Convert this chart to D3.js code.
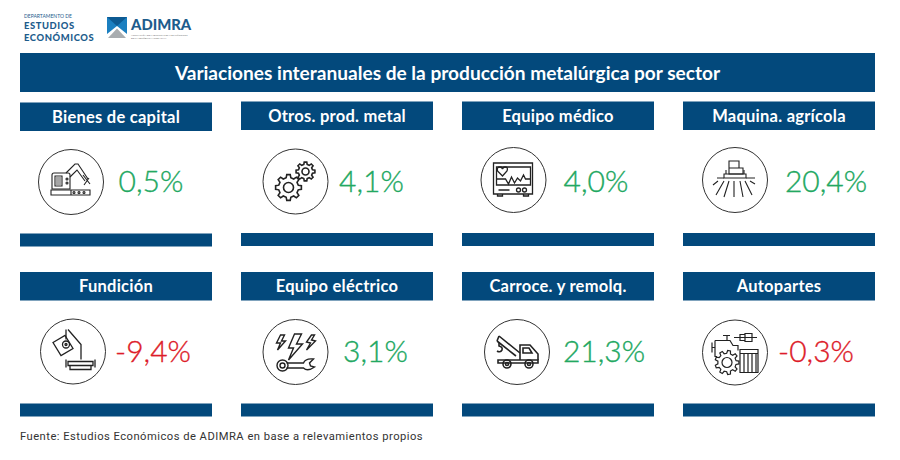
<!DOCTYPE html>
<html>
<head>
<meta charset="utf-8">
<script src="https://cdn.jsdelivr.net/npm/d3@7"></script>
<style>
  html, body { margin: 0; padding: 0; background: #fff; }
  svg { display: block; }
</style>
</head>
<body>
<div id="chart"></div>
<script>
// Chart content
var titleText = "Variaciones interanuales de la producción metalúrgica por sector";
var sectors = ["Bienes de capital", "Otros. prod. metal", "Equipo médico", "Maquina. agrícola",
               "Fundición", "Equipo eléctrico", "Carroce. y remolq.", "Autopartes"];
var variations = [0.5, 4.1, 4.0, 20.4, -9.4, 3.1, 21.3, -0.3];
var icons = ["robot", "gears", "monitor", "tractor", "foundry", "electric", "truck", "parts"];
var sourceText = "Fuente: Estudios Económicos de ADIMRA en base a relevamientos propios";

var width = 900, height = 460;
var blue = "#03497c", green = "#22a862", red = "#dd1c2a", ink = "#222";

var svg = d3.select("#chart").append("svg")
  .attr("width", width)
  .attr("height", height);

var fmt = d3.formatLocale({ decimal: ",", thousands: ".", grouping: [3], currency: ["", ""], minus: "-" }).format(".1f");

// Cards sit on a 4 x 2 grid
var colX = d3.scaleLinear().domain([0, 3]).range([20, 683]);
var rowY = d3.scalePoint().domain([0, 1]).range([101.5, 272]);
var cardW = 192;

// Small per card nudges so it lines up with the picture
var circleDx = [51, 54.5, 51.5, 52, 53, 54.5, 55, 52];
var circleDy = [1, 0.5, -1, -1, 0, 0.5, 0.5, 1];
var valueDx = [131, 130.5, 134, 143, 133, 134.5, 142, 133];

// Header
svg.append("rect").attr("x", 20).attr("y", 53).attr("width", 855).attr("height", 39).attr("fill", blue);
svg.append("text")
  .attr("x", 447.5).attr("y", 79.5)
  .attr("text-anchor", "middle")
  .attr("font-family", "Lato")
  .attr("font-weight", 700)
  .attr("font-size", 19.1)
  .attr("fill", "#fff")
  .text(titleText);

// Departamento logo
var logo = svg.append("g").attr("fill", "#1d5c8c").attr("font-family", "Lato");
logo.append("text").attr("x", 24).attr("y", 18).attr("font-size", 5).text("DEPARTAMENTO DE");
logo.append("text").attr("x", 24).attr("y", 29).attr("font-size", 9.4).attr("letter-spacing", 0.6).attr("font-weight", 900).text("ESTUDIOS");
logo.append("text").attr("x", 24).attr("y", 40.5).attr("font-size", 9.4).attr("letter-spacing", 0.6).attr("font-weight", 900).text("ECONÓMICOS");

// ADIMRA logo
var mark = svg.append("g").attr("transform", "translate(107,17)");
mark.append("path").attr("d", "M0,0H20V17L10,9L0,17Z").attr("fill", "#1b7fc0");
mark.append("path").attr("d", "M0,0L10,9L20,0Z").attr("fill", "#0d5a92");
mark.append("path").attr("d", "M1,21L10,11.5L19,21Z").attr("fill", "#a9adb0");
logo.append("text").attr("x", 131).attr("y", 29.5).attr("font-size", 14.8).attr("font-weight", 900).text("ADIMRA");
logo.append("text").attr("x", 131).attr("y", 35.5).attr("font-size", 2.5).attr("fill", "#777").text("ASOCIACIÓN DE INDUSTRIALES METALÚRGICOS");
logo.append("text").attr("x", 131).attr("y", 38.6).attr("font-size", 2.5).attr("fill", "#777").text("DE LA REPÚBLICA ARGENTINA");

// gear outline around the origin
function gearPath(cx, cy, rOut, rIn, teeth) {
  var pts = [];
  var step = 2 * Math.PI / teeth;
  d3.range(teeth).forEach(function (i) {
    var a = i * step;
    [[-0.3, rIn], [-0.17, rOut], [0.17, rOut], [0.3, rIn]].forEach(function (p) {
      var t = a + p[0] * step;
      pts.push([cx + p[1] * Math.cos(t), cy + p[1] * Math.sin(t)]);
    });
  });
  return d3.line().curve(d3.curveLinearClosed)(pts);
}

function ring(g, cx, cy, r) {
  g.append("circle").attr("cx", cx).attr("cy", cy).attr("r", r);
}
function paths(g, list) {
  list.forEach(function (d) { g.append("path").attr("d", d); });
}

var iconDraw = {
  robot: function (g) {
    paths(g, [
      "M-20,8H19V13H-20Z M0,8V13",
      "M-19,7V-7Q-19,-9 -17,-9H-3Q-1,-9 -1,-7V7Z",
      "M-16,-6H-9V4H-16Z",
      "M-5,-9L4,-18L7,-18L17,-3 M-1,-5L6,-12L14,-1",
      "M12,-7L19,2 M18,-4L13,3"
    ]);
    ring(g, -4, -3, 1); ring(g, -4, 1, 1); ring(g, 3, 10.5, 1); ring(g, 8, 10.5, 1); ring(g, 13, 10.5, 1);
    g.append("path").attr("d", "M-15,-4H-10 M-15,-2H-10 M-15,0H-10 M-15,2H-10").attr("stroke-width", 0.8);
  },
  gears: function (g) {
    g.attr("stroke-width", 1.6);
    g.append("path").attr("d", gearPath(-7, 6, 13, 10, 8));
    ring(g, -7, 6, 5);
    g.append("path").attr("d", gearPath(10, -10, 9.5, 7.2, 8));
    ring(g, 10, -10, 3.5);
  },
  monitor: function (g) {
    g.attr("stroke-width", 1.3);
    paths(g, [
      "M-20,-17H19V14H-20Z",
      "M-17,-13H17V5H-17Z",
      "M-17,-1H-8L-5,4L-2,-3L1,3L4,-2L7,1L10,-5L12,-1H17",
      "M-11,-4L-16,-9Q-17,-13 -13.5,-13Q-11.5,-13 -11,-11Q-10.5,-13 -8.5,-13Q-5,-13 -6.5,-9Z",
      "M-15,10H-4 M-16,14V16H-11V14 M10,14V16H15V14"
    ]);
    ring(g, 5, 10, 2); ring(g, 11, 10, 2);
  },
  tractor: function (g) {
    paths(g, [
      "M-6,-19H4V-12H8V-6H-6Z M-6,-12H4",
      "M-11,-6H11V-2H-11Z M-9,-10V-6 M9,-10V-6",
      "M-18,-2H-11 M11,-2H20",
      "M-11,1L-19,15 M-6,1L-11,17 M-1,1V17 M5,1L8,17 M10,1L17,15",
      "M-17,1L-22,5 M15,1L20,4"
    ]);
  },
  foundry: function (g) {
    g.attr("stroke-width", 1.3);
    paths(g, [
      "M-20,-9L-8,-16L0,-3L-12,4Z",
      "M-7,-22V-12 M-5,-22L8,-7V8",
      "M-5,10H20V14H-5Z M-3,14V18H18V14 M-7,8V16 M22,8V16"
    ]);
    ring(g, -7, -7, 3.5); ring(g, -7, -7, 1);
  },
  electric: function (g) {
    g.attr("stroke-width", 1.4);
    paths(g, [
      "M-15,-17L-19,-9L-15,-9L-18,-2L-10,-11L-14,-11L-11,-17Z",
      "M16,-17L11,-10L15,-9L11,-2L20,-11L16,-12L19,-17Z",
      "M-1,-18L-7,-4L-2,-4L-7,8L7,-8L1,-8L6,-18Z",
      "M-9,11H8Q10,6 18,7L14,11L15,14L19,15Q12,20 8,16H-9"
    ]);
    ring(g, -13, 13.5, 5.5); ring(g, -13, 13.5, 2.5);
  },
  truck: function (g) {
    g.attr("stroke-width", 1.6);
    paths(g, [
      "M-19,8H21V11H-19Z",
      "M3,8V-7H13L21,2V8 M6,-4H12L15,1H6Z",
      "M-18,-16L3,1 M-20,-11L-1,4 M-18,-16L-20,-11",
      "M-18,-10V-6Q-14,-5 -15,-2Q-17,1 -20,-1"
    ]);
    ring(g, -10, 12, 4); ring(g, 12, 12, 4); ring(g, -10, 12, 1.5); ring(g, 12, 12, 1.5);
  },
  parts: function (g) {
    g.attr("stroke-width", 1.2);
    g.append("path").attr("d", gearPath(-8, 10, 12, 9.2, 9));
    ring(g, -8, 10, 5);
    paths(g, [
      "M-1,-15H22 M5,-18H10V-12H5Z M10,-19H17V-11H10Z",
      "M-23,-5H-20 M-23,-10V0 M-20,-12H-5L-2,-7H3V-2 M-20,-12V4H-18",
      "M-12,-17H-5 M-8,-17V-12",
      "M5,-3H23V20H5Z M5,1H23 M9,1V20 M13,1V20 M17,1V20 M21,1V20"
    ]);
  }
};

// One group per sector
var cards = svg.selectAll("g.card")
  .data(sectors)
  .enter().append("g")
  .attr("class", "card")
  .attr("transform", function (d, i) {
    return "translate(" + colX(i % 4) + "," + rowY(Math.floor(i / 4)) + ")";
  });

cards.append("rect")
  .attr("y", function (d, i) { return i == 0 ? 1 : 0; })
  .attr("width", cardW).attr("height", 28.5)
  .attr("fill", blue);

cards.append("rect")
  .attr("y", function (d, i) { return i == 0 ? 132 : 131.5; })
  .attr("width", cardW).attr("height", 13)
  .attr("fill", blue);

cards.append("text")
  .attr("x", cardW / 2)
  .attr("y", function (d, i) { return i == 0 ? 21 : 20; })
  .attr("text-anchor", "middle")
  .attr("font-family", "Lato")
  .attr("font-weight", 700)
  .attr("font-size", 16.5)
  .attr("letter-spacing", 0.25)
  .attr("fill", "#fff")
  .text(function (d) { return d; });

cards.append("circle")
  .attr("cx", function (d, i) { return circleDx[i]; })
  .attr("cy", function (d, i) { return 79.5 + circleDy[i]; })
  .attr("r", 32.5)
  .attr("fill", "#fff")
  .attr("stroke", "#333")
  .attr("stroke-width", 1);

cards.append("g")
  .attr("transform", function (d, i) { return "translate(" + circleDx[i] + "," + (79.5 + circleDy[i]) + ")"; })
  .attr("fill", "none")
  .attr("stroke", ink)
  .attr("stroke-width", 1.1)
  .each(function (d, i) { iconDraw[icons[i]](d3.select(this)); });

// light weight with a hair of stroke, the original digits sit between 300 and 400
cards.append("text")
  .attr("x", function (d, i) { return valueDx[i]; })
  .attr("y", 90)
  .attr("text-anchor", "middle")
  .attr("font-family", "Lato")
  .attr("font-weight", 300)
  .attr("font-size", 30)
  .attr("fill", function (d, i) { return variations[i] < 0 ? red : green; })
  .attr("stroke", function (d, i) { return variations[i] < 0 ? red : green; })
  .attr("stroke-width", 0.35)
  .text(function (d, i) { return fmt(variations[i]) + "%"; });

// Source note
svg.append("text")
  .attr("x", 20).attr("y", 440)
  .attr("font-family", "Roboto")
  .attr("font-size", 11.2)
  .attr("letter-spacing", 0.48)
  .attr("fill", "#333")
  .text(sourceText);
</script>
</body>
</html>
